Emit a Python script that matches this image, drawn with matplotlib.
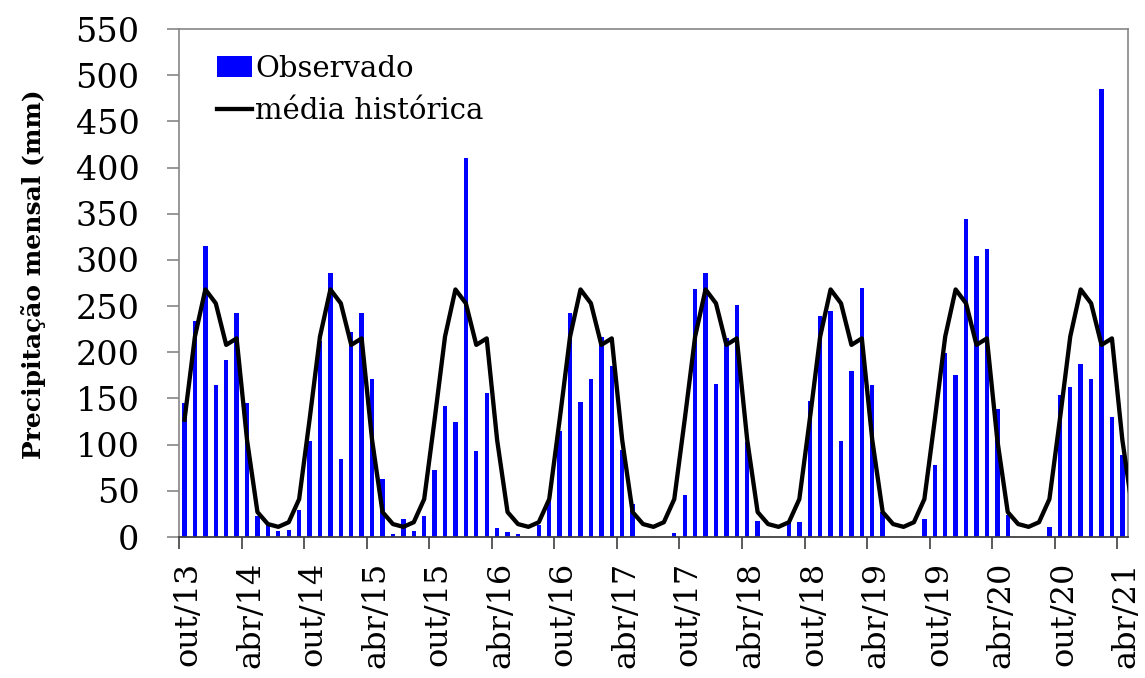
import matplotlib
matplotlib.use("Agg")
import matplotlib.pyplot as plt
import numpy as np

plt.rcParams['font.family'] = ['DejaVu Serif']

# Observed monthly precipitation (mm), Oct/2013 .. Apr/2021
observado = [
    145, 234, 315, 165, 192, 243, 145, 23, 14, 6, 8, 29,      # out/13 - set/14
    104, 212, 286, 84, 222, 242, 171, 63, 3, 20, 7, 23,       # out/14 - set/15
    72, 142, 124, 410, 93, 156, 10, 5, 3, 0, 13, 40,          # out/15 - set/16
    115, 242, 146, 171, 217, 185, 94, 36, 0, 0, 0, 4,         # out/16 - set/17
    46, 269, 286, 166, 215, 251, 103, 17, 0, 0, 16, 16,       # out/17 - set/18
    147, 239, 245, 104, 180, 270, 165, 27, 0, 0, 0, 19,       # out/18 - set/19
    78, 199, 175, 344, 304, 312, 139, 24, 0, 0, 0, 11,        # out/19 - set/20
    154, 162, 187, 171, 485, 130, 89,                         # out/20 - abr/21
]

# Historical monthly mean (mm), Oct..Sep, repeated over the period (Oct/2013 .. May/2021)
media_mensal = [127, 217, 268, 253, 208, 215, 105, 27, 14, 11, 16, 41]
media_historica = media_mensal * 7 + media_mensal[:8]

tick_labels = ['out/13', 'abr/14', 'out/14', 'abr/15', 'out/15', 'abr/16',
               'out/16', 'abr/17', 'out/17', 'abr/18', 'out/18', 'abr/19',
               'out/19', 'abr/20', 'out/20', 'abr/21']

fig = plt.figure(figsize=(11.45, 6.78), dpi=100)
ax = fig.add_axes([179.3 / 1145, 141 / 678, 949 / 1145, 508 / 678])

x_obs = np.arange(len(observado))
x_med = np.arange(len(media_historica))

bars = ax.bar(x_obs, observado, width=0.42, color='#0000FF', label='Observado', zorder=2)
line, = ax.plot(x_med, media_historica, color='black', lw=3.1, label='média histórica',
                zorder=3)

ax.set_xlim(-0.5, len(observado) - 0.5 + 0.07)
ax.set_ylim(0, 550)
ax.set_yticks(np.arange(0, 551, 50))

major = np.arange(len(tick_labels)) * 6 - 0.5
ax.set_xticks(major)
ax.set_xticklabels([])
ax.set_xticks(major + 0.85, minor=True)
ax.set_xticklabels(tick_labels, minor=True, rotation=90, fontsize=23)
ax.tick_params(axis='x', which='major', direction='out', length=8.6, width=1.2,
               color='#404040')
ax.tick_params(axis='x', which='minor', length=0, pad=18)
ax.tick_params(axis='y', direction='out', length=8.6, width=1.2, color='#868686',
               labelsize=24, pad=20)

for s in ['left', 'top', 'right']:
    ax.spines[s].set_color('#868686')
    ax.spines[s].set_linewidth(1.2)
ax.spines['bottom'].set_color('#404040')
ax.spines['bottom'].set_linewidth(1.3)

ax.set_ylabel('Precipitação mensal (mm)', fontsize=18, fontweight='bold')
ax.yaxis.set_label_coords(-0.14, 0.517)

leg = ax.legend([bars, line], ['Observado', 'média histórica'],
                loc='upper left', bbox_to_anchor=(0.027, 0.972), frameon=False,
                fontsize=21, handlelength=1.2, handletextpad=0.12,
                labelspacing=0.5, borderaxespad=0)

fig.savefig('out.png', dpi=100)
